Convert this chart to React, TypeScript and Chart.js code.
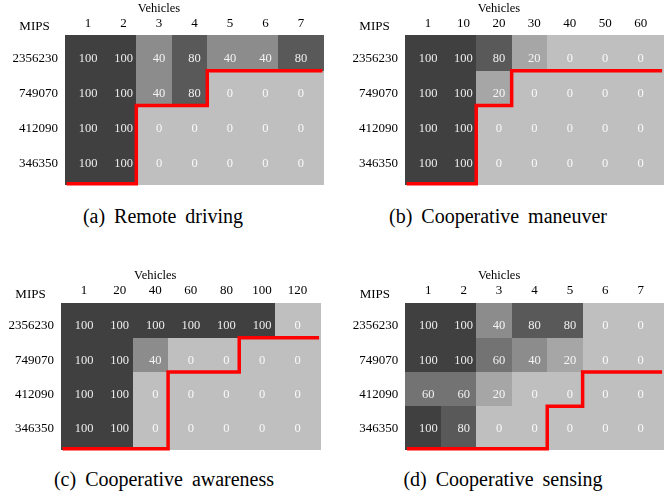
import React, { useEffect, useRef } from 'react';
import { Chart, registerables } from 'chart.js';

Chart.register(...registerables);

const FONT = '"Liberation Serif", "Times New Roman", serif';

const MIPS = ['2356230', '749070', '412090', '346350'];

const VEHICLES_A = [1, 2, 3, 4, 5, 6, 7];
const VALUES_A = [
  [100, 100, 40, 80, 40, 40, 80],
  [100, 100, 40, 80, 0, 0, 0],
  [100, 100, 0, 0, 0, 0, 0],
  [100, 100, 0, 0, 0, 0, 0],
];
const LIMIT_A = [4, 4, 2, 2, 1, 1, 1];

const VEHICLES_B = [1, 10, 20, 30, 40, 50, 60];
const VALUES_B = [
  [100, 100, 80, 20, 0, 0, 0],
  [100, 100, 20, 0, 0, 0, 0],
  [100, 100, 0, 0, 0, 0, 0],
  [100, 100, 0, 0, 0, 0, 0],
];
const LIMIT_B = [4, 4, 2, 1, 1, 1, 1];

const VEHICLES_C = [1, 20, 40, 60, 80, 100, 120];
const VALUES_C = [
  [100, 100, 100, 100, 100, 100, 0],
  [100, 100, 40, 0, 0, 0, 0],
  [100, 100, 0, 0, 0, 0, 0],
  [100, 100, 0, 0, 0, 0, 0],
];
const LIMIT_C = [4, 4, 4, 2, 2, 1, 1];

const VEHICLES_D = [1, 2, 3, 4, 5, 6, 7];
const VALUES_D = [
  [100, 100, 40, 80, 80, 0, 0],
  [100, 100, 60, 40, 20, 0, 0],
  [60, 60, 20, 0, 0, 0, 0],
  [100, 80, 0, 0, 0, 0, 0],
];
const LIMIT_D = [4, 4, 4, 4, 3, 2, 2];

// styling constants (cell geometry relative to label grid)
const EDGE_X = 0.65;
const EDGE_Y_TOP = 0.68;
const EDGE_Y_BOTTOM = 0.62;
const COL_SPLIT = 0.36;
const ROW_SPLIT = 0.34;
const LINE_INSET = 0.045;

function grayFor(v: number) {
  const g = Math.round(191 - 1.27 * v);
  return `rgb(${g},${g},${g})`;
}

type PanelSpec = {
  vehicles: number[];
  values: number[][];
  limit: number[];
  caption: string;
  left: number;
  top: number;
  width: number;
  height: number;
  axisW: number;
  axisH: number;
  padRight: number;
  padBottom: number;
  capX: number;
  capY: number;
};

const PANELS: PanelSpec[] = [
  { vehicles: VEHICLES_A, values: VALUES_A, limit: LIMIT_A, caption: '(a) Remote driving',
    left: 0, top: 0, width: 336, height: 200, axisW: 65, axisH: 35, padRight: 12, padBottom: 13, capX: 163, capY: 204 },
  { vehicles: VEHICLES_B, values: VALUES_B, limit: LIMIT_B, caption: '(b) Cooperative maneuver',
    left: 336, top: 0, width: 336, height: 200, axisW: 69, axisH: 35, padRight: 8.3, padBottom: 13, capX: 498, capY: 204 },
  { vehicles: VEHICLES_C, values: VALUES_C, limit: LIMIT_C, caption: '(c) Cooperative awareness',
    left: 0, top: 250, width: 336, height: 215, axisW: 61, axisH: 52.7, padRight: 15.3, padBottom: 11, capX: 164, capY: 467 },
  { vehicles: VEHICLES_D, values: VALUES_D, limit: LIMIT_D, caption: '(d) Cooperative sensing',
    left: 336, top: 250, width: 336, height: 215, axisW: 69.3, axisH: 52.7, padRight: 8.3, padBottom: 11, capX: 503, capY: 467 },
];

function Panel({ p }: { p: PanelSpec }) {
  const ref = useRef<HTMLCanvasElement>(null);

  useEffect(() => {
    const canvas = ref.current;
    if (!canvas) return;
    const n = p.vehicles.length;
    const m = MIPS.length;
    const xMin = -EDGE_X;
    const xMax = n - 1 + EDGE_X;
    const yMin = -EDGE_Y_TOP;
    const yMax = m - 1 + EDGE_Y_BOTTOM;
    const colLo = (i: number) => (i === 0 ? xMin : i - 1 + COL_SPLIT);
    const colHi = (i: number) => (i === n - 1 ? xMax : i + COL_SPLIT);
    const rowLo = (j: number) => (j === 0 ? yMin : j - 1 + ROW_SPLIT);
    const rowHi = (j: number) => (j === m - 1 ? yMax : j + ROW_SPLIT);
    const rowEdge = (k: number) => (k === 0 ? yMin : k === m ? yMax - LINE_INSET : k - 1 + ROW_SPLIT);

    const pts: { x: number; y: number }[] = [];
    p.limit.forEach((k, i) => {
      const yy = rowEdge(k);
      pts.push({ x: i === 0 ? xMin + LINE_INSET : colLo(i), y: yy });
      pts.push({ x: i === n - 1 ? xMax - LINE_INSET : colHi(i), y: yy });
    });

    const heat = {
      id: 'heat',
      beforeDatasetsDraw(chart: any) {
        const { ctx } = chart;
        const xs = chart.scales.x;
        const ys = chart.scales.y;
        ctx.save();
        for (let j = 0; j < m; j++) {
          for (let i = 0; i < n; i++) {
            const x0 = Math.round(xs.getPixelForValue(colLo(i)));
            const x1 = Math.round(xs.getPixelForValue(colHi(i)));
            const y0 = Math.round(ys.getPixelForValue(rowLo(j)));
            const y1 = Math.round(ys.getPixelForValue(rowHi(j)));
            ctx.fillStyle = grayFor(p.values[j][i]);
            ctx.fillRect(x0, y0, x1 - x0, y1 - y0);
          }
        }
        ctx.font = `12.5px ${FONT}`;
        ctx.textAlign = 'center';
        ctx.textBaseline = 'middle';
        ctx.fillStyle = 'rgba(255,255,255,0.9)';
        for (let j = 0; j < m; j++) {
          for (let i = 0; i < n; i++) {
            ctx.fillText(String(p.values[j][i]), xs.getPixelForValue(i), ys.getPixelForValue(j));
          }
        }
        ctx.restore();
      },
      afterDraw(chart: any) {
        const { ctx, chartArea } = chart;
        const xs = chart.scales.x;
        ctx.save();
        ctx.fillStyle = '#000';
        ctx.textAlign = 'center';
        ctx.textBaseline = 'middle';
        ctx.font = `12.5px ${FONT}`;
        ctx.fillText('Vehicles', xs.getPixelForValue(2), chartArea.top - 26.7);
        ctx.font = `13px ${FONT}`;
        ctx.fillText('MIPS', chartArea.left - 30.5, chartArea.top - 8.6);
        ctx.restore();
      },
    };

    const chart = new Chart(canvas, {
      type: 'line',
      data: {
        datasets: [
          {
            data: pts,
            borderColor: '#ff0000',
            borderWidth: 3.5,
            pointRadius: 0,
            tension: 0,
            fill: false,
            borderJoinStyle: 'miter',
            clip: false,
          } as any,
        ],
      },
      options: {
        animation: false,
        responsive: false,
        events: [],
        layout: { padding: { left: 0, top: 0, right: p.padRight, bottom: p.padBottom } },
        plugins: { legend: { display: false }, tooltip: { enabled: false } },
        scales: {
          x: {
            type: 'linear',
            position: 'top',
            min: xMin,
            max: xMax,
            bounds: 'data',
            grid: { display: false, drawTicks: false },
            border: { display: false },
            afterBuildTicks: (s: any) => {
              s.ticks = p.vehicles.map((_, i) => ({ value: i }));
            },
            afterFit: (s: any) => {
              s.height = p.axisH;
            },
            ticks: {
              autoSkip: false,
              maxRotation: 0,
              padding: 4,
              color: '#000',
              font: { family: FONT, size: 13 },
              callback: (v: any) => String(p.vehicles[Math.round(Number(v))]),
            },
          },
          y: {
            type: 'linear',
            reverse: true,
            min: yMin,
            max: yMax,
            bounds: 'data',
            grid: { display: false, drawTicks: false },
            border: { display: false },
            afterBuildTicks: (s: any) => {
              s.ticks = MIPS.map((_, j) => ({ value: j }));
            },
            afterFit: (s: any) => {
              s.width = p.axisW;
            },
            ticks: {
              autoSkip: false,
              padding: 7,
              color: '#000',
              font: { family: FONT, size: 13 },
              callback: (v: any) => MIPS[Math.round(Number(v))],
            },
          },
        },
      } as any,
      plugins: [heat as any],
    });
    return () => chart.destroy();
  }, [p]);

  return (
    <>
      <canvas
        ref={ref}
        width={p.width}
        height={p.height}
        style={{ position: 'absolute', left: p.left, top: p.top, width: p.width, height: p.height }}
      />
      <div
        style={{
          position: 'absolute',
          left: p.capX,
          top: p.capY,
          transform: 'translateX(-50%)',
          whiteSpace: 'nowrap',
          fontFamily: FONT,
          fontSize: 20,
          lineHeight: '24px',
          wordSpacing: 4,
          color: '#000',
        }}
      >
        {p.caption}
      </div>
    </>
  );
}

export default function App() {
  return (
    <div style={{ position: 'fixed', left: 0, top: 0, width: 672, height: 497, background: '#fff', overflow: 'hidden' }}>
      {PANELS.map((p, i) => (
        <Panel key={i} p={p} />
      ))}
    </div>
  );
}
